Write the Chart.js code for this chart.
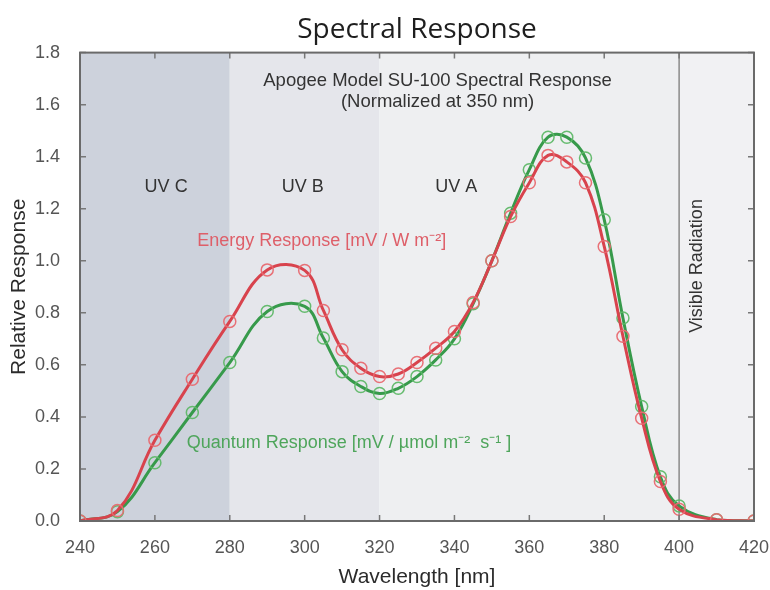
<!DOCTYPE html>
<html><head><meta charset="utf-8">
<script src="https://cdn.jsdelivr.net/npm/chart.js@4"></script>
<style>html,body{margin:0;padding:0;background:#fff}#wrap{width:770px;height:590px}</style>
</head><body><div id="wrap"><canvas id="c" width="770" height="590"></canvas></div>
<script>
// ---- data ----
const wavelengths = [240,250,260,270,280,290,300,305,310,315,320,325,330,335,340,345,350,355,360,365,370,375,380,385,390,395,400,410,420];
const energyResponse = [0,0.04,0.31,0.545,0.767,0.965,0.963,0.809,0.658,0.587,0.555,0.565,0.609,0.664,0.728,0.84,1.0,1.17,1.30,1.405,1.38,1.30,1.055,0.71,0.395,0.152,0.045,0.005,0];
const quantumResponse = [0,0.036,0.224,0.417,0.609,0.805,0.825,0.703,0.574,0.517,0.49,0.51,0.555,0.619,0.70,0.835,1.0,1.183,1.35,1.475,1.475,1.395,1.158,0.78,0.44,0.17,0.058,0.005,0];
const xTickValues = [240,260,280,300,320,340,360,380,400,420];
const yTickValues = [0,0.2,0.4,0.6,0.8,1.0,1.2,1.4,1.6,1.8];
const regionNames = ['UV C','UV B','UV A','Visible Radiation'];
const regionStart = [240,280,320,400];
const regionEnd = [280,320,400,420];
const seriesNames = ['Energy Response [mV / W m⁻²]','Quantum Response [mV / µmol m⁻²  s⁻¹ ]'];
const chartTitle = 'Spectral Response';
const innerTitle = ['Apogee Model SU-100 Spectral Response','(Normalized at 350 nm)'];

const toPoints = ys => wavelengths.map((w,i)=>({x:w,y:ys[i]}));

const bandColors = ['#cdd2dc','#e5e6eb','#eeeff1','#f1f1f3'];

const decor = {
  id:'decor',
  beforeDatasetsDraw(chart){
    const {ctx, chartArea:a, scales:{x,y}} = chart;
    ctx.save();
    regionStart.forEach((s,i)=>{
      const x0 = x.getPixelForValue(s), x1 = x.getPixelForValue(regionEnd[i]);
      ctx.fillStyle = bandColors[i];
      ctx.fillRect(x0, a.top, x1-x0, a.bottom-a.top);
    });
    const xv = x.getPixelForValue(regionStart[3]);
    ctx.strokeStyle = '#8a8a8a'; ctx.lineWidth = 1.5;
    ctx.beginPath(); ctx.moveTo(xv, a.top); ctx.lineTo(xv, a.bottom); ctx.stroke();
    ctx.font = '18px "Liberation Sans", Arial, sans-serif';
    ctx.textAlign = 'center'; ctx.textBaseline = 'middle';
    ctx.fillStyle = '#333';
    const labelPos = [[263,1.285],[299.5,1.285],[340.5,1.285]];
    labelPos.forEach((p,i)=>ctx.fillText(regionNames[i], x.getPixelForValue(p[0]), y.getPixelForValue(p[1])));
    ctx.font = '18.5px "Liberation Sans", Arial, sans-serif';
    ctx.fillText(innerTitle[0], x.getPixelForValue(335.5), y.getPixelForValue(1.69));
    ctx.fillText(innerTitle[1], x.getPixelForValue(335.5), y.getPixelForValue(1.61));
    ctx.font = '18px "Liberation Sans", Arial, sans-serif';
    ctx.textAlign = 'left';
    ctx.fillStyle = '#de5f69';
    ctx.fillText(seriesNames[0], x.getPixelForValue(271.3), y.getPixelForValue(1.075));
    ctx.fillStyle = '#4ea55b';
    ctx.fillText(seriesNames[1], x.getPixelForValue(268.5), y.getPixelForValue(0.30));
    ctx.textAlign = 'center';
    ctx.save();
    ctx.fillStyle = '#333';
    ctx.translate(x.getPixelForValue(404.8), y.getPixelForValue(0.98));
    ctx.rotate(-Math.PI/2);
    ctx.fillText(regionNames[3], 0, 0);
    ctx.restore();
    ctx.restore();
  },
  afterDatasetsDraw(chart){
    const {ctx, chartArea:a, scales:{x,y}} = chart;
    ctx.save();
    ctx.strokeStyle = '#777'; ctx.lineWidth = 1.5;
    ctx.beginPath();
    yTickValues.forEach(v=>{
      const py = y.getPixelForValue(v);
      ctx.moveTo(a.left, py); ctx.lineTo(a.left+6, py);
      ctx.moveTo(a.right, py); ctx.lineTo(a.right-6, py);
    });
    xTickValues.forEach(v=>{
      const px = x.getPixelForValue(v);
      ctx.moveTo(px, a.bottom); ctx.lineTo(px, a.bottom-6);
      ctx.moveTo(px, a.top); ctx.lineTo(px, a.top+6);
    });
    ctx.stroke();
    ctx.strokeStyle = '#6a6a6a'; ctx.lineWidth = 2;
    ctx.strokeRect(a.left, a.top, a.right-a.left, a.bottom-a.top);
    ctx.restore();
  }
};

new Chart(document.getElementById('c'), {
  type:'line',
  data:{
    datasets:[
      {label:seriesNames[0], data:toPoints(energyResponse), borderColor:'#d8434d', borderWidth:3,
       pointRadius:6, pointBorderWidth:1.5, pointBorderColor:'rgba(232,105,112,0.95)', pointBackgroundColor:'rgba(0,0,0,0)',
       tension:0.4, fill:false},
      {label:seriesNames[1], data:toPoints(quantumResponse), borderColor:'#379a4b', borderWidth:3,
       pointRadius:6, pointBorderWidth:1.5, pointBorderColor:'rgba(95,184,104,0.95)', pointBackgroundColor:'rgba(0,0,0,0)',
       tension:0.4, fill:false}
    ]
  },
  options:{
    responsive:false, animation:false, devicePixelRatio:1,
    layout:{padding:{left:0,right:0,top:0,bottom:0}},
    plugins:{
      legend:{display:false}, tooltip:{enabled:false},
      title:{display:true, fullSize:false, text:chartTitle, color:'#1e1e1e',
        font:{family:'"Open Sans", sans-serif', size:28, weight:'normal', lineHeight:1.2},
        padding:{top:13,bottom:6}}
    },
    scales:{
      x:{type:'linear', min:240, max:420,
        afterBuildTicks:s=>{s.ticks = xTickValues.map(v=>({value:v}));},
        afterFit:s=>{s.height = 69; s.paddingRight = 16;},
        grid:{display:false}, border:{display:false},
        ticks:{color:'#555', padding:8, font:{family:'"Liberation Sans", Arial, sans-serif', size:18}, maxRotation:0},
        title:{display:true, text:'Wavelength [nm]', color:'#2b2b2b', padding:{top:0,bottom:0},
          font:{family:'"Liberation Sans", Arial, sans-serif', size:21}}
      },
      y:{min:0, max:1.8,
        afterBuildTicks:s=>{s.ticks = yTickValues.map(v=>({value:v}));},
        afterFit:s=>{s.width = 80;},
        grid:{display:false}, border:{display:false},
        ticks:{color:'#555', padding:12, callback:v=>v.toFixed(1), font:{family:'"Liberation Sans", Arial, sans-serif', size:18}},
        title:{display:true, text:'Relative Response', color:'#2b2b2b', padding:{top:7,bottom:0},
          font:{family:'"Liberation Sans", Arial, sans-serif', size:21}}
      }
    }
  },
  plugins:[decor]
});
</script></body></html>
